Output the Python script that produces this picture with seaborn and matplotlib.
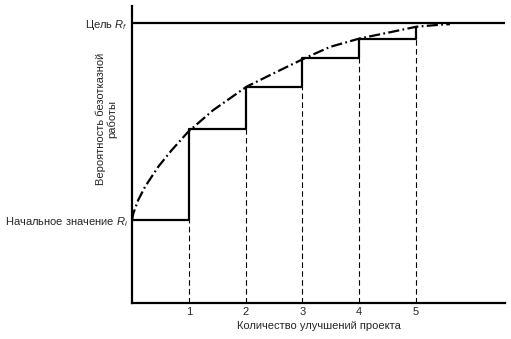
import matplotlib
matplotlib.use("Agg")
import matplotlib.pyplot as plt
import seaborn as sns
import pandas as pd

# ---- data ----
improvements = [0, 1, 2, 3, 4, 5]
step_levels = [0.296, 0.620, 0.770, 0.874, 0.943, 0.987]
curve_x = [0.0, 0.023, 0.11, 0.229, 0.463, 0.699, 0.991, 1.43, 2.02, 2.55,
           3.08, 3.49, 4.01, 4.54, 5.01, 5.48, 5.60]
curve_y = [0.296, 0.320, 0.368, 0.415, 0.487, 0.546, 0.612, 0.689, 0.773, 0.826,
           0.878, 0.915, 0.945, 0.967, 0.987, 0.995, 0.996]
target_R = 1.0
initial_R = 0.296
x_ticks = [1, 2, 3, 4, 5]
x_tick_labels = ["1", "2", "3", "4", "5"]
y_tick_labels = ["Начальное значение $R_i$", "Цель $R_f$"]
x_label = "Количество улучшений проекта"
y_label = "Вероятность безотказной\nработы"

sns.set_style("white")
plt.rcParams["font.family"] = ["Liberation Sans", "DejaVu Sans"]
plt.rcParams["mathtext.fontset"] = "custom"
plt.rcParams["mathtext.it"] = "Liberation Sans:italic"
plt.rcParams["mathtext.rm"] = "Liberation Sans"

fig = plt.figure(figsize=(5.11, 3.39), dpi=100)
ax = fig.add_axes([132 / 511, 36 / 339, 373 / 511, 297 / 339])

xmax = 6.57
ymax = 1.061

# dashed verticals from axis to lower step
ax.vlines(improvements[1:], 0, step_levels[:-1], colors="black",
          linewidth=0.8, linestyles=(0, (5, 3)))

# target line
tgt = pd.DataFrame({"x": [0, xmax], "y": [target_R, target_R]})
sns.lineplot(data=tgt, x="x", y="y", ax=ax, color="black", linewidth=1.6)

# staircase
steps = pd.DataFrame({"x": improvements, "y": step_levels})
sns.lineplot(data=steps, x="x", y="y", ax=ax, color="black", linewidth=1.6,
             drawstyle="steps-post")

# growth curve
crv = pd.DataFrame({"x": curve_x, "y": curve_y})
sns.lineplot(data=crv, x="x", y="y", ax=ax, color="black", linewidth=1.6,
             linestyle=(0, (5, 1.5, 0.8, 1.5)))

ax.set_xlim(0, xmax)
ax.set_ylim(0, ymax)
ax.set_xticks(x_ticks)
ax.set_xticklabels(x_tick_labels, fontsize=8)
ax.set_yticks([initial_R, target_R])
ax.set_yticklabels(y_tick_labels, fontsize=8)
ax.tick_params(axis="both", length=0, pad=3)

ax.set_xlabel(x_label, fontsize=8, labelpad=3)
ax.set_ylabel(y_label, fontsize=8, linespacing=1.1)
ax.yaxis.set_label_coords(-0.04, 0.62)

for s in ["top", "right"]:
    ax.spines[s].set_visible(False)
for s in ["left", "bottom"]:
    ax.spines[s].set_color("black")
    ax.spines[s].set_linewidth(1.6)

fig.savefig("out.png", dpi=100)
